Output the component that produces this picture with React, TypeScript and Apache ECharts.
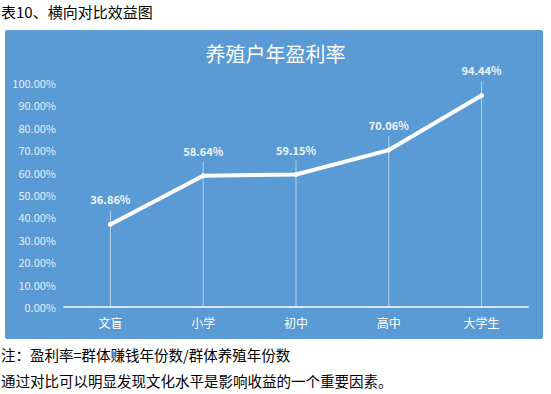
import React, { useEffect, useRef } from "react";
import * as echarts from "echarts";

const categories = ["文盲", "小学", "初中", "高中", "大学生"];
const values = [36.86, 58.64, 59.15, 70.06, 94.44];
const headerText = "表10、横向对比效益图";
const chartTitle = "养殖户年盈利率";
const noteLine1 = "注：盈利率=群体赚钱年份数/群体养殖年份数";
const noteLine2 = "通过对比可以明显发现文化水平是影响收益的一个重要因素。";

const FONT = "'Noto Sans CJK SC', 'Noto Sans', sans-serif";

export default function App() {
  const ref = useRef<HTMLDivElement>(null);
  useEffect(() => {
    if (!ref.current) return;
    const chart = echarts.init(ref.current, undefined, { renderer: "svg" });
    chart.setOption({
      animation: false,
      backgroundColor: "#ffffff",
      textStyle: { fontFamily: FONT },
      graphic: [
        {
          type: "rect",
          z: -10,
          shape: { x: 5, y: 30, width: 538, height: 309, r: 2 },
          style: { fill: "#5B9BD5" },
        },
        {
          type: "text",
          left: 1,
          top: 4,
          style: { text: headerText, fontSize: 15, fill: "#000", fontFamily: FONT },
        },
        {
          type: "text",
          left: 1,
          top: 347,
          style: { text: noteLine1, fontSize: 14.5, fill: "#000", fontFamily: FONT },
        },
        {
          type: "text",
          left: 1,
          top: 373,
          style: { text: noteLine2, fontSize: 14.5, fill: "#000", fontFamily: FONT },
        },
      ],
      title: {
        text: chartTitle,
        left: "center",
        top: 38,
        textStyle: { color: "#ffffff", fontSize: 20, fontWeight: "normal", fontFamily: FONT },
      },
      grid: { left: 64, right: 23, top: 83, bottom: 87, containLabel: false },
      xAxis: {
        type: "category",
        data: categories,
        boundaryGap: true,
        axisLine: { show: true, lineStyle: { color: "#ffffff", width: 1.5 } },
        axisTick: { show: false },
        axisLabel: { color: "#ffffff", fontSize: 12, margin: 9, fontFamily: FONT },
        splitLine: { show: false },
      },
      yAxis: {
        type: "value",
        min: 0,
        max: 100,
        interval: 10,
        axisLine: { show: false },
        axisTick: { show: false },
        splitLine: { show: false },
        axisLabel: {
          color: "#e3eef9",
          fontSize: 11,
          margin: 8,
          fontFamily: FONT,
          formatter: (v: number) => v.toFixed(2) + "%",
        },
      },
      series: [
        {
          type: "custom",
          z: 1,
          data: values.map((v, i) => [i, v]),
          renderItem: (params: any, api: any) => {
            const top = api.coord([api.value(0), api.value(1)]);
            const bottom = api.coord([api.value(0), 0]);
            return {
              type: "line",
              shape: { x1: top[0], y1: top[1] - 14, x2: bottom[0], y2: bottom[1] },
              style: { stroke: "rgba(255,255,255,0.55)", lineWidth: 1 },
            };
          },
          silent: true,
        },
        {
          type: "line",
          z: 3,
          data: values,
          symbol: "circle",
          symbolSize: 5,
          itemStyle: { color: "#ffffff" },
          lineStyle: { color: "#ffffff", width: 4 },
          label: {
            show: true,
            position: "top",
            distance: 17,
            color: "#eef4fb",
            fontSize: 11,
            fontWeight: "bold",
            fontFamily: FONT,
            formatter: (p: any) => p.value.toFixed(2) + "%",
          },
        },
      ],
    });
    return () => chart.dispose();
  }, []);
  return (
    <div
      ref={ref}
      style={{ position: "absolute", left: 0, top: 0, width: 551, height: 394 }}
    />
  );
}
